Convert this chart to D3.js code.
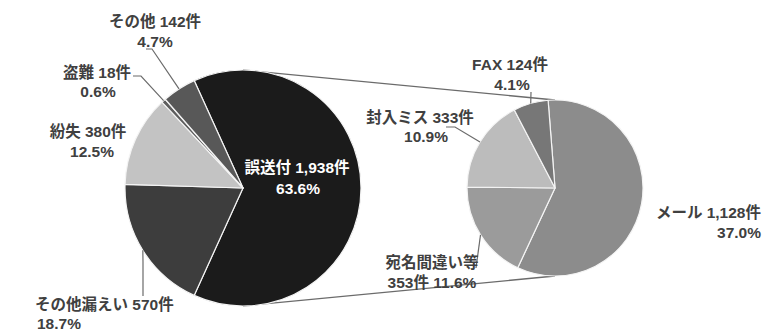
<!DOCTYPE html>
<html lang="ja">
<head>
<meta charset="utf-8">
<script src="https://cdn.jsdelivr.net/npm/d3@7"></script>
<style>
  html, body { margin: 0; padding: 0; background: #fff; }
  svg { display: block; }
  text { font-family: "Liberation Sans", "Noto Sans CJK JP", sans-serif; font-size: 15.5px; font-weight: 700; fill: #404040; }
</style>
</head>
<body>
<svg id="chart" width="763" height="332"></svg>
<script>
// Main breakdown (件数) and the breakdown of 誤送付
const mainLabels = ["誤送付", "その他漏えい", "紛失", "盗難", "その他"];
const mainCounts = [1938, 570, 380, 18, 142];
const mainPct = ["63.6%", "18.7%", "12.5%", "0.6%", "4.7%"];

const subLabels = ["メール", "宛名間違い等", "封入ミス", "FAX"];
const subCounts = [1128, 353, 333, 124];
const subPct = ["37.0%", "11.6%", "10.9%", "4.1%"];

const mainColors = ["#1b1b1b", "#3d3d3d", "#c3c3c3", "#5e5e5e", "#585858"];
const subColors = ["#8c8c8c", "#9b9b9b", "#bcbcbc", "#777777"];

const svg = d3.select("#chart");
const deg = Math.PI / 180;

const main = { cx: 243, cy: 188, r: 118 };
const sub = { cx: 555, cy: 188, r: 88 };

// rotate the main pie so the split slice is centred on the right-hand side
const mainTotal = d3.sum(mainCounts);
const mainStart = Math.PI / 2 - Math.PI * mainCounts[0] / mainTotal;
const subStart = -4.5 * deg;

const mainArcs = d3.pie().sort(null).value(d => d)
  .startAngle(mainStart).endAngle(mainStart + 2 * Math.PI)(mainCounts);
const subArcs = d3.pie().sort(null).value(d => d)
  .startAngle(subStart).endAngle(subStart + 2 * Math.PI)(subCounts);

const mainArc = d3.arc().innerRadius(0).outerRadius(main.r);
const subArc = d3.arc().innerRadius(0).outerRadius(sub.r);

// connector lines between the two pies
const conn = svg.append("g").attr("stroke", "#6b6b6b").attr("stroke-width", 1.3).attr("fill", "none");
conn.append("line").attr("x1", main.cx).attr("y1", main.cy - main.r).attr("x2", sub.cx).attr("y2", sub.cy - sub.r);
conn.append("line").attr("x1", main.cx).attr("y1", main.cy + main.r).attr("x2", sub.cx).attr("y2", sub.cy + sub.r);

svg.append("g").attr("transform", `translate(${main.cx},${main.cy})`)
  .selectAll("path").data(mainArcs).join("path")
  .attr("d", mainArc)
  .attr("fill", (d, i) => mainColors[i])
  .attr("stroke", "#f4f4f4").attr("stroke-width", 1.2).attr("stroke-linejoin", "round");

svg.append("g").attr("transform", `translate(${sub.cx},${sub.cy})`)
  .selectAll("path").data(subArcs).join("path")
  .attr("d", subArc)
  .attr("fill", (d, i) => subColors[i])
  .attr("stroke", "#f4f4f4").attr("stroke-width", 1.2).attr("stroke-linejoin", "round");

// point on a pie's rim at the middle of a slice
function rimPoint(p, a) {
  const m = (a.startAngle + a.endAngle) / 2;
  return [p.cx + p.r * Math.sin(m), p.cy - p.r * Math.cos(m)];
}

const fmt = d3.format(",");
const lineGen = d3.line();
const leaders = svg.append("g").attr("stroke", "#6b6b6b").attr("stroke-width", 1.2).attr("fill", "none");

// label layout: slice set, index, line positions, anchor, leader elbow points
const labelSpecs = [
  { set: "main", i: 1, l1: [35, 305], l2: [37, 324], anchor: "start", lead: [[143, 296], [143, 262]] },
  { set: "main", i: 2, l1: [88, 132], l2: [92, 152], anchor: "middle", lead: null },
  { set: "main", i: 3, l1: [97, 73], l2: [98, 92], anchor: "middle", lead: [[133, 76], [141, 76]] },
  { set: "main", i: 4, l1: [155, 22], l2: [155, 42], anchor: "middle", lead: [[146, 49], [152, 49]] },
  { set: "sub", i: 0, l1: [761, 213], l2: [761, 233], anchor: "end", lead: null },
  { set: "sub", i: 1, l1: [432, 263], l2: [432, 283], anchor: "middle", lead: [[476, 268]], two: true },
  { set: "sub", i: 2, l1: [420, 118], l2: [426, 137], anchor: "middle", lead: [[446, 127], [455, 127]] },
  { set: "sub", i: 3, l1: [510, 65], l2: [512, 85], anchor: "middle", lead: [[531, 92]] }
];

const labels = svg.append("g");
labelSpecs.forEach(s => {
  const isMain = s.set === "main";
  const names = isMain ? mainLabels : subLabels;
  const counts = isMain ? mainCounts : subCounts;
  const pcts = isMain ? mainPct : subPct;
  const arcs = isMain ? mainArcs : subArcs;
  const p = isMain ? main : sub;
  let t1, t2;
  if (s.two) { t1 = names[s.i]; t2 = `${fmt(counts[s.i])}件 ${pcts[s.i]}`; }
  else { t1 = `${names[s.i]} ${fmt(counts[s.i])}件`; t2 = pcts[s.i]; }
  labels.append("text").attr("x", s.l1[0]).attr("y", s.l1[1]).attr("dy", "0.35em")
    .attr("text-anchor", s.anchor).text(t1);
  labels.append("text").attr("x", s.l2[0]).attr("y", s.l2[1]).attr("dy", "0.35em")
    .attr("text-anchor", s.anchor).text(t2);
  if (s.lead) {
    leaders.append("path").attr("d", lineGen(s.lead.concat([rimPoint(p, arcs[s.i])])));
  }
});

// label inside the largest slice
labels.append("text").attr("x", 297).attr("y", 168).attr("dy", "0.35em").attr("text-anchor", "middle")
  .style("fill", "#ffffff").text(`${mainLabels[0]} ${fmt(mainCounts[0])}件`);
labels.append("text").attr("x", 298).attr("y", 189).attr("dy", "0.35em").attr("text-anchor", "middle")
  .style("fill", "#ffffff").text(mainPct[0]);
</script>
</body>
</html>
